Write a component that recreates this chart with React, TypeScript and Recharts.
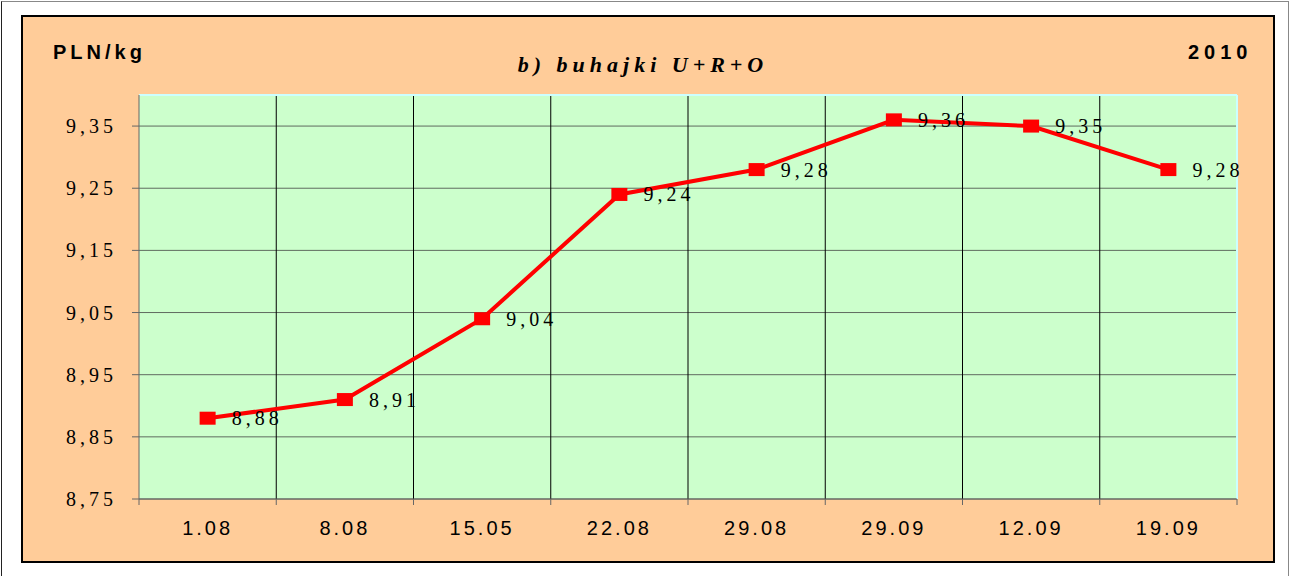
import React from 'react';
import { LineChart, Line, XAxis, YAxis, CartesianGrid, ReferenceLine } from 'recharts';

const categories = ['1.08', '8.08', '15.05', '22.08', '29.08', '29.09', '12.09', '19.09'];
const prices = [8.88, 8.91, 9.04, 9.24, 9.28, 9.36, 9.35, 9.28];
const yTicks = [8.75, 8.85, 8.95, 9.05, 9.15, 9.25, 9.35];
const yDomain = [8.75, 9.4];
const titleText = 'b) buhajki U+R+O';
const unitText = 'PLN/kg';
const yearText = '2010';

const data = categories.map((c, i) => ({ date: c, price: prices[i] }));

const fmt = (v: number) => Number(v).toFixed(2).replace('.', ',');

const SERIF = 'Liberation Serif';
const SANS = 'Liberation Sans';
const X_TICK_MARGIN = 22;

const Dot = (props: any) => {
  const { cx, cy, index } = props;
  if (cx == null || cy == null) return null;
  return <rect key={`d${index}`} x={cx - 8} y={cy - 6.5} width={16} height={13} fill="#FF0000" />;
};

const ValueLabel = (props: any) => {
  const { x, y, value, index } = props;
  return (
    <text
      key={`l${index}`}
      x={x + 24}
      y={y}
      dominantBaseline="central"
      style={{ fontFamily: SERIF, fontSize: 20, letterSpacing: 4 }}
      fill="#000"
    >
      {fmt(value)}
    </text>
  );
};

const XTick = (props: any) => {
  const { x, y, payload, index, visibleTicksCount, width } = props;
  let half = payload && payload.offset ? payload.offset : 0;
  if (!half && width && visibleTicksCount) half = width / visibleTicksCount / 2;
  const axisY = y - X_TICK_MARGIN;
  return (
    <g>
      <line x1={x - half} x2={x - half} y1={axisY} y2={axisY + 6} stroke="#666" />
      {index === visibleTicksCount - 1 ? (
        <line x1={x + half} x2={x + half} y1={axisY} y2={axisY + 6} stroke="#666" />
      ) : null}
      <text
        x={x}
        y={y}
        dy="0.71em"
        textAnchor="middle"
        style={{ fontFamily: SANS, fontSize: 20, letterSpacing: 3 }}
        fill="#000"
      >
        {payload.value}
      </text>
    </g>
  );
};

export default function App() {
  return (
    <div style={{ position: 'absolute', left: 0, top: 0, width: 1298, height: 576, background: '#fff', overflow: 'hidden' }}>
      <div style={{ position: 'absolute', left: 1, top: 1, width: 1288, height: 600, borderTop: '1px solid #888', borderLeft: '1px solid #222', borderRight: '1px solid #888', boxSizing: 'border-box' }} />
      <div
        style={{
          position: 'absolute',
          left: 21,
          top: 15,
          width: 1254,
          height: 548,
          background: '#FFCC99',
          border: '2px solid #000',
          boxSizing: 'border-box',
        }}
      >
        <div style={{ position: 'absolute', left: 0, top: 0 }}>
          <LineChart width={1250} height={544} data={data} margin={{ top: 78, right: 36, bottom: 0, left: 0 }}>
            <CartesianGrid vertical={false} stroke="#5f6b5f" fill="#CCFFCC" />
            <CartesianGrid
              horizontal={false}
              stroke="#000"
              verticalCoordinatesGenerator={({ offset }: any) =>
                categories.slice(1).map((_, i) => offset.left + (offset.width * (i + 1)) / categories.length)
              }
            />
            <CartesianGrid
              horizontal={false}
              stroke="#CCFFFF"
              strokeWidth={2}
              verticalCoordinatesGenerator={({ offset }: any) => [offset.left + offset.width]}
            />
            <XAxis
              dataKey="date"
              scale="band"
              axisLine={{ stroke: '#666' }}
              tickLine={false}
              tickSize={0}
              tickMargin={X_TICK_MARGIN}
              height={62}
              interval={0}
              tick={XTick}
            />
            <YAxis
              width={116}
              domain={yDomain}
              ticks={yTicks}
              tickSize={7}
              tickMargin={15}
              stroke="#666"
              tickFormatter={fmt}
              tick={{ fill: '#000', fontSize: 20, fontFamily: SERIF, letterSpacing: 4 }}
              allowDataOverflow
            />
            <ReferenceLine y={yDomain[1]} stroke="#CCFFFF" strokeWidth={2} />
            <Line
              type="linear"
              dataKey="price"
              stroke="#FF0000"
              strokeWidth={4}
              dot={Dot}
              activeDot={false}
              label={ValueLabel}
              isAnimationActive={false}
            />
          </LineChart>
        </div>
      </div>
      <svg width={1298} height={576} style={{ position: 'absolute', left: 0, top: 0, pointerEvents: 'none' }}>
        <text x={53} y={59} style={{ fontFamily: SANS, fontWeight: 'bold', fontSize: 20, letterSpacing: 4 }} fill="#000">
          {unitText}
        </text>
        <text x={1188} y={59} style={{ fontFamily: SANS, fontWeight: 'bold', fontSize: 20, letterSpacing: 5 }} fill="#000">
          {yearText}
        </text>
        <text x={643} y={72} textAnchor="middle" style={{ fontFamily: SERIF, fontWeight: 'bold', fontStyle: 'italic', fontSize: 22, letterSpacing: 5 }} fill="#000">
          {titleText}
        </text>
      </svg>
    </div>
  );
}
